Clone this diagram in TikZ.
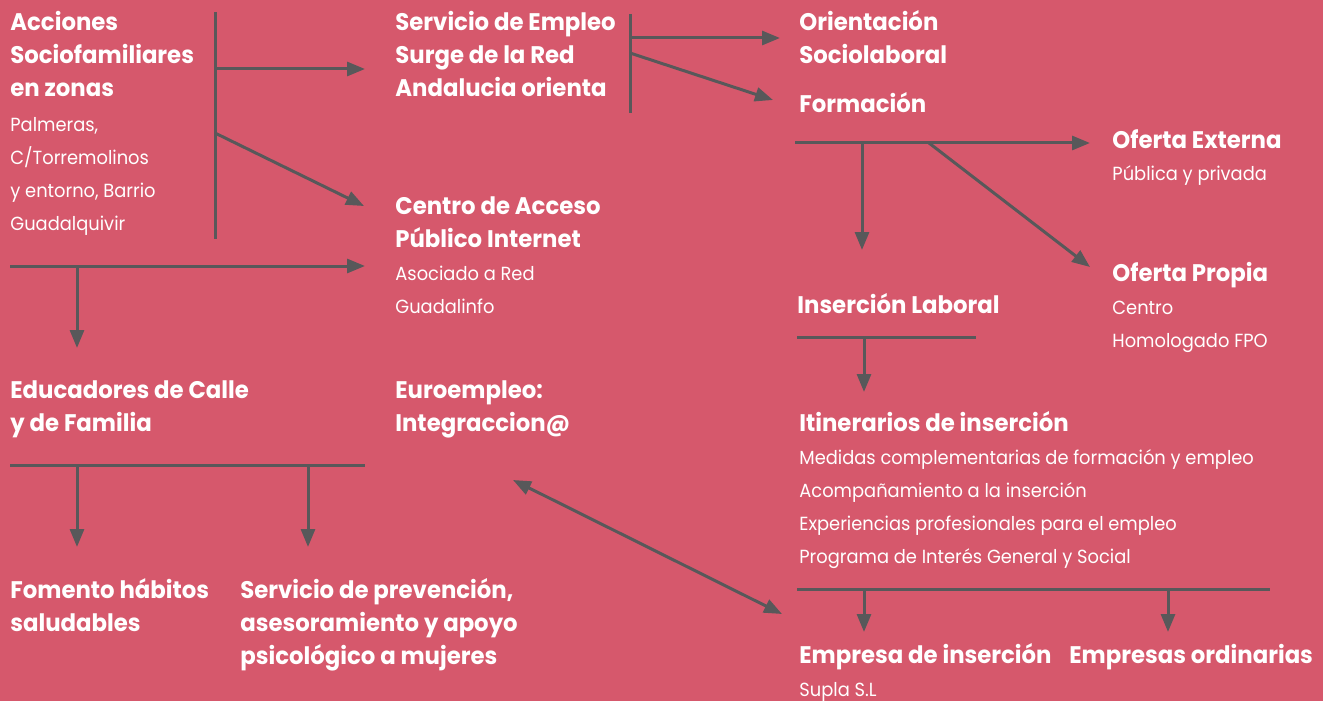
\documentclass[tikz,border=0pt]{standalone}
\usepackage{fontspec}
\setmainfont{Poppins}
\newfontfamily\rgf[FakeStretch=0.94]{Poppins}
\newfontfamily\bdf[FakeStretch=0.95]{Poppins}
\usetikzlibrary{arrows.meta}
\definecolor{bg}{RGB}{214,88,108}
\definecolor{ln}{RGB}{88,88,90}
\newcommand{\hd}[1]{{\bdf\fontsize{12}{16.5}\selectfont\bfseries #1}}
\begin{document}
\begin{tikzpicture}[x=0.5pt,y=-0.5pt,
  lbl/.style={anchor=base west, inner sep=0pt, text=white, align=left, font=\rgf\fontsize{9.5}{16.5}\selectfont},
  conn/.style={draw=ln, line width=1.5pt},
  arr/.style={conn, -{Triangle[length=9pt,width=7pt]}},
  darr/.style={conn, {Triangle[length=9pt,width=7pt]}-{Triangle[length=9pt,width=7pt]}},
]
\fill[bg] (0,0) rectangle (1323,701);
\useasboundingbox (0,0) rectangle (1323,701);

% text blocks (anchored at the baseline of their last line)
\node[lbl] (acc) at (10,230) {\hd{Acciones}\\\hd{Sociofamiliares}\\\hd{en zonas}\\[1pt]Palmeras,\\C/Torremolinos\\y entorno, Barrio\\Guadalquivir};
\node[lbl] (serv) at (395,97) {\hd{Servicio de Empleo}\\\hd{Surge de la Red}\\\hd{Andalucia orienta}};
\node[lbl] (orie) at (799,64) {\hd{Orientación}\\\hd{Sociolaboral}};
\node[lbl] (form) at (799,113) {\hd{Formación}};
\node[lbl] (ofe) at (1112,181) {\hd{Oferta Externa}\\Pública y privada};
\node[lbl] (ofp) at (1112,347) {\hd{Oferta Propia}\\Centro\\Homologado FPO};
\node[lbl] (ins) at (797,313) {\hd{Inserción Laboral}};
\node[lbl] (cap) at (395,313) {\hd{Centro de Acceso}\\\hd{Público Internet}\\Asociado a Red\\Guadalinfo};
\node[lbl] (edu) at (10,431) {\hd{Educadores de Calle}\\\hd{y de Familia}};
\node[lbl] (euro) at (395,431) {\hd{Euroempleo:}\\\hd{Integraccion@}};
\node[lbl] (itin) at (799,563) {\hd{Itinerarios de inserción}\\Medidas complementarias de formación y empleo\\Acompañamiento a la inserción\\Experiencias profesionales para el empleo\\Programa de Interés General y Social};
\node[lbl] (fom) at (10,631) {\hd{Fomento hábitos}\\\hd{saludables}};
\node[lbl] (prev) at (240,664) {\hd{Servicio de prevención,}\\\hd{asesoramiento y apoyo}\\\hd{psicológico a mujeres}};
\node[lbl] (emp) at (799,696) {\hd{Empresa de inserción}\\Supla S.L};
\node[lbl] (empo) at (1069,663) {\hd{Empresas ordinarias}};

% connector coordinates
\coordinate (a1) at (215,12);  \coordinate (a2) at (215,239);
\coordinate (a3) at (215,69);  \coordinate (a4) at (365,69);
\coordinate (a5) at (215,133); \coordinate (a6) at (364,206);
\coordinate (b1) at (10,266);  \coordinate (b2) at (365,266);
\coordinate (b3) at (77,266);  \coordinate (b4) at (77,348);
\coordinate (c1) at (630,14);  \coordinate (c2) at (630,113);
\coordinate (c3) at (630,38);  \coordinate (c4) at (780,38);
\coordinate (c5) at (630,53);  \coordinate (c6) at (773,100);
\coordinate (d1) at (795,143); \coordinate (d2) at (1090,143);
\coordinate (d3) at (862,143); \coordinate (d4) at (862,250);
\coordinate (d5) at (929,143); \coordinate (d6) at (1090,267);
\coordinate (e1) at (797,337); \coordinate (e2) at (976,337);
\coordinate (e3) at (864,337); \coordinate (e4) at (864,392);
\coordinate (f1) at (10,465);  \coordinate (f2) at (365,465);
\coordinate (f3) at (77,465);  \coordinate (f4) at (77,547);
\coordinate (f5) at (308,465); \coordinate (f6) at (308,547);
\coordinate (g1) at (513,480); \coordinate (g2) at (782,614);
\coordinate (h1) at (797,589); \coordinate (h2) at (1270,589);
\coordinate (h3) at (864,589); \coordinate (h4) at (864,632);
\coordinate (h5) at (1168,589); \coordinate (h6) at (1168,632);

\draw[conn] (a1) -- (a2);
\draw[arr] (a3) -- (a4);
\draw[arr] (a5) -- (a6);
\draw[arr] (b1) -- (b2);
\draw[arr] (b3) -- (b4);
\draw[conn] (c1) -- (c2);
\draw[arr] (c3) -- (c4);
\draw[arr] (c5) -- (c6);
\draw[arr] (d1) -- (d2);
\draw[arr] (d3) -- (d4);
\draw[arr] (d5) -- (d6);
\draw[conn] (e1) -- (e2);
\draw[arr] (e3) -- (e4);
\draw[conn] (f1) -- (f2);
\draw[arr] (f3) -- (f4);
\draw[arr] (f5) -- (f6);
\draw[darr] (g1) -- (g2);
\draw[conn] (h1) -- (h2);
\draw[arr] (h3) -- (h4);
\draw[arr] (h5) -- (h6);
\end{tikzpicture}
\end{document}
